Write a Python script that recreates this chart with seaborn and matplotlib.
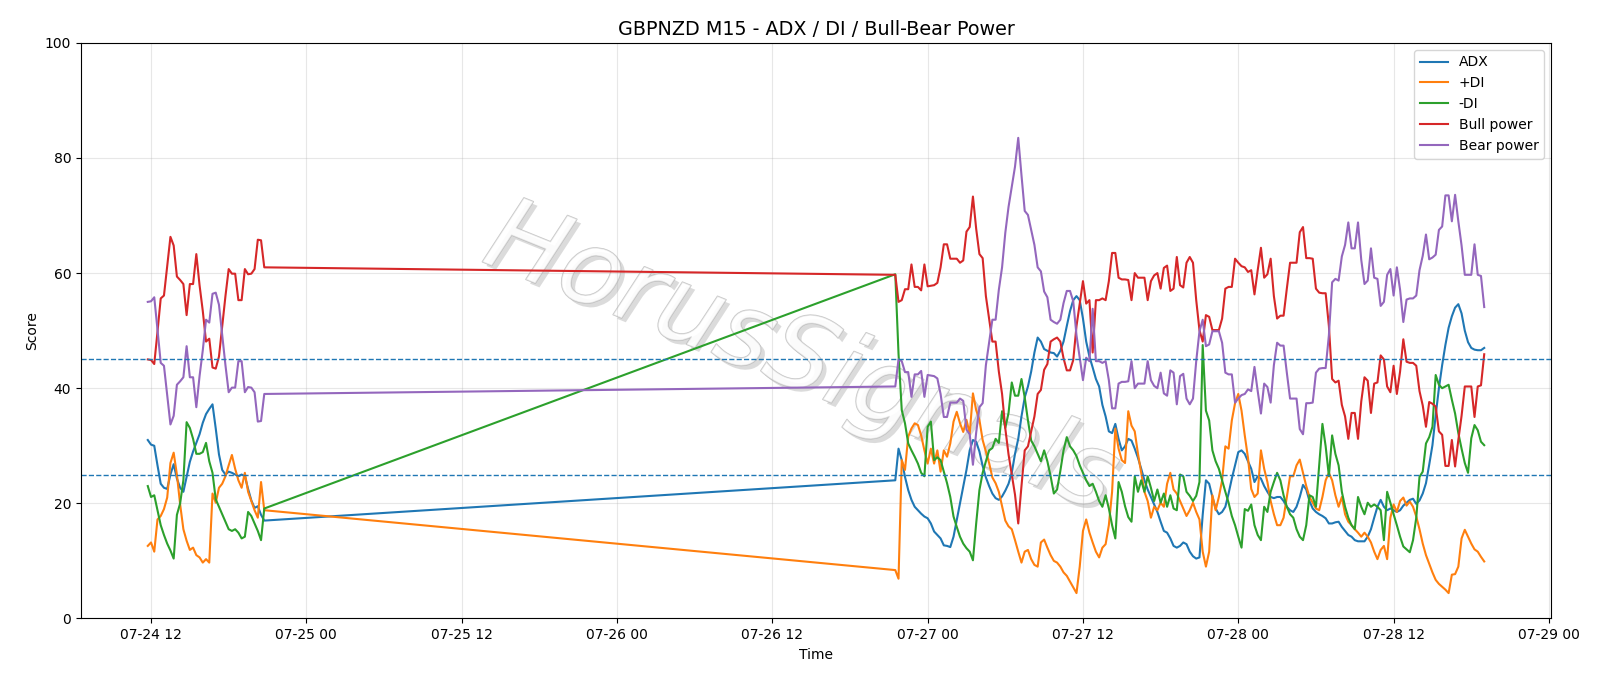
import matplotlib
matplotlib.use("Agg")
import matplotlib.pyplot as plt
import matplotlib.dates as mdates
import matplotlib.patheffects as pe
import seaborn as sns
import pandas as pd

# ---------------- data ----------------
seg1_start = "2025-07-24 11:45"
seg2_start = "2025-07-26 21:30"

adx_1 = [31.0, 30.2, 30.0, 26.6, 23.4, 22.7, 22.5, 25.0, 26.8, 24.3,
         22.7, 22.0, 24.6, 27.2, 29.0, 30.5, 32.0, 34.0, 35.5, 36.4,
         37.2, 33.0, 28.5, 25.8, 25.0, 25.5, 25.3, 25.0, 24.7, 25.0,
         24.7, 22.5, 20.5, 19.2, 19.5, 18.0, 17.0]
pdi_1 = [12.6, 13.2, 11.6, 17.2, 17.8, 19.0, 21.0, 27.0, 28.8, 25.0,
         19.8, 15.5, 13.5, 11.9, 12.3, 11.0, 10.6, 9.7, 10.3, 9.7,
         21.7, 20.1, 22.7, 23.4, 24.7, 26.6, 28.4, 26.0, 24.0, 22.7,
         25.3, 22.0, 20.4, 18.8, 17.5, 23.7, 18.8]
mdi_1 = [23.0, 21.1, 21.4, 18.8, 16.2, 14.5, 13.0, 11.8, 10.4, 18.0,
         20.0, 24.0, 34.1, 33.1, 31.2, 28.6, 28.6, 28.9, 30.5, 27.3,
         25.3, 20.7, 19.4, 18.1, 16.8, 15.5, 15.2, 15.5, 14.9, 13.9,
         14.2, 18.5, 17.8, 16.5, 15.2, 13.6, 19.1]
bull_1 = [45.0, 44.9, 44.2, 49.8, 55.6, 56.1, 61.2, 66.3, 64.8, 59.4,
          58.8, 58.1, 52.7, 58.1, 58.1, 63.3, 57.9, 53.4, 48.1, 48.6,
          43.6, 43.4, 45.5, 50.8, 56.0, 60.7, 59.9, 59.9, 55.3, 55.3,
          60.7, 59.8, 59.9, 60.7, 65.8, 65.7, 61.0]
bear_1 = [55.0, 55.1, 55.8, 50.2, 44.4, 43.9, 38.8, 33.7, 35.2, 40.6,
          41.2, 41.9, 47.3, 41.9, 41.9, 36.7, 42.1, 46.6, 51.9, 51.4,
          56.4, 56.6, 54.5, 49.2, 44.0, 39.3, 40.1, 40.1, 44.7, 44.7,
          39.3, 40.2, 40.1, 39.3, 34.2, 34.3, 39.0]

adx_2 = [24.0, 29.5, 27.5, 24.6, 22.3, 20.6, 19.4, 18.8, 18.2, 17.7,
         17.4, 16.5, 15.1, 14.5, 13.9, 12.7, 12.6, 12.4, 14.2, 17.1,
         20.0, 22.9, 25.8, 29.2, 31.0, 30.7, 29.0, 26.5, 24.5, 23.0,
         21.7, 20.9, 20.6, 21.2, 22.2, 23.4, 25.3, 28.6, 31.2, 35.1,
         38.4, 40.3, 42.9, 46.2, 48.8, 48.1, 46.8, 46.5, 46.2, 46.1,
         45.5, 46.5, 48.1, 50.8, 53.4, 55.3, 56.0, 55.3, 52.1, 48.1,
         45.5, 43.6, 41.6, 40.3, 37.1, 35.1, 32.5, 32.2, 33.8, 31.2,
         29.2, 29.9, 31.2, 30.9, 29.5, 27.9, 26.0, 24.0, 22.4, 21.1,
         19.8, 18.5, 16.8, 15.2, 14.9, 13.9, 12.6, 12.3, 12.6, 13.2,
         12.9, 11.6, 10.8, 10.4, 10.6, 18.0, 24.0, 23.4, 21.1, 19.1,
         18.1, 18.5, 19.4, 21.7, 24.3, 26.6, 28.9, 29.2, 28.6, 27.3,
         26.0, 23.7, 24.7, 24.3, 23.0, 22.0, 21.1, 20.9, 21.1, 21.1,
         20.4, 19.4, 18.8, 18.5, 19.4, 21.1, 23.2, 22.4, 20.4, 19.1,
         18.5, 18.1, 17.8, 17.4, 16.5, 16.5, 16.7, 16.8, 15.9, 15.2,
         14.5, 14.2, 13.6, 13.4, 13.4, 13.4, 14.2, 15.5, 17.5, 19.4,
         20.6, 19.4, 18.8, 19.1, 18.8, 18.5, 18.8, 19.6, 20.1, 20.6,
         20.8, 19.9, 20.5, 21.7, 23.5, 26.7, 30.1, 35.3, 40.0, 44.0,
         47.5, 50.5, 52.5, 54.0, 54.6, 53.0, 50.0, 48.0, 47.0, 46.7,
         46.6, 46.6, 47.0]
pdi_2 = [8.4, 6.9, 27.5, 25.8, 31.6, 33.0, 33.9, 33.6, 31.8, 29.2,
         26.9, 29.5, 26.9, 29.2, 25.5, 29.2, 28.1, 30.4, 34.2, 35.9,
         33.9, 32.4, 34.5, 32.1, 39.1, 36.2, 34.5, 31.0, 29.0, 27.0,
         24.5, 23.5, 22.0, 19.5, 17.0, 16.0, 15.5, 13.6, 11.6, 9.7,
         11.6, 11.9, 10.3, 9.3, 9.0, 13.2, 13.7, 12.3, 11.0, 10.0,
         9.7, 9.0, 8.0, 7.4, 6.4, 5.4, 4.4, 9.0, 15.2, 17.2,
         14.9, 13.2, 11.6, 10.6, 12.3, 12.9, 16.2, 22.0, 33.0, 29.5,
         27.5, 27.0, 36.0, 33.5, 32.5, 28.6, 25.3, 22.0, 20.4, 17.5,
         19.4, 18.8, 20.1, 19.4, 23.4, 25.3, 22.4, 21.7, 20.4, 19.1,
         17.8, 18.8, 20.1, 18.5, 17.2, 11.6, 9.0, 11.6, 21.4, 18.8,
         21.1, 24.0, 29.9, 29.5, 34.4, 37.4, 39.0, 36.1, 31.8, 27.9,
         22.5, 21.1, 21.7, 29.2, 26.0, 23.7, 20.4, 18.1, 16.2, 16.2,
         17.5, 21.1, 24.7, 24.7, 26.6, 27.6, 25.3, 23.0, 21.1, 20.1,
         19.1, 18.8, 21.1, 24.0, 25.3, 24.0, 21.4, 19.4, 21.1, 18.1,
         16.8, 16.2, 15.5, 14.9, 14.2, 14.9, 14.2, 13.2, 11.6, 10.3,
         11.9, 12.6, 10.3, 17.5, 19.8, 18.5, 20.4, 21.0, 19.6, 20.3,
         19.4, 17.7, 15.5, 13.0, 11.0, 9.5, 8.0, 6.7, 6.0, 5.5,
         5.0, 4.4, 7.6, 7.7, 9.0, 13.9, 15.4, 14.2, 13.0, 12.0,
         11.6, 10.7, 9.9]
mdi_2 = [59.8, 46.0, 36.2, 33.9, 30.4, 29.2, 28.1, 26.9, 25.3, 24.7,
         33.3, 34.2, 27.5, 28.0, 27.5, 25.5, 23.5, 21.1, 17.7, 15.9,
         14.2, 13.0, 12.2, 11.6, 10.1, 16.5, 22.3, 25.3, 27.3, 29.2,
         29.6, 31.2, 30.5, 36.0, 33.1, 35.7, 41.0, 38.7, 38.7, 41.6,
         38.4, 34.4, 30.9, 29.9, 28.6, 27.3, 29.2, 27.3, 24.7, 21.7,
         22.4, 25.6, 29.2, 31.5, 29.9, 29.2, 28.2, 26.6, 25.3, 24.0,
         23.0, 23.4, 22.0, 20.4, 19.4, 21.4, 19.1, 16.2, 13.9, 23.7,
         22.0, 19.5, 17.6, 16.8, 24.7, 22.0, 24.0, 22.0, 24.7, 22.7,
         20.4, 22.4, 20.1, 21.7, 19.4, 21.4, 19.1, 18.8, 25.0, 24.7,
         22.0, 21.3, 20.4, 21.3, 23.7, 47.5, 36.1, 34.4, 29.2, 27.3,
         26.0, 24.0, 22.0, 20.1, 17.8, 16.2, 14.2, 12.3, 19.0, 18.7,
         19.8, 16.2, 14.5, 13.6, 19.4, 18.5, 22.0, 23.7, 25.3, 24.0,
         21.4, 19.4, 18.1, 17.5, 15.5, 14.2, 13.6, 16.2, 21.4, 21.1,
         19.4, 26.6, 33.8, 29.9, 24.7, 31.8, 28.6, 26.6, 22.0, 19.4,
         17.5, 16.2, 15.5, 21.1, 19.4, 18.1, 20.1, 19.4, 19.8, 19.4,
         18.8, 13.6, 22.0, 20.1, 18.1, 16.2, 14.2, 12.5, 12.0, 11.5,
         13.6, 17.5, 24.6, 25.5, 30.4, 31.5, 33.3, 42.3, 40.6, 40.0,
         40.3, 40.6, 38.0, 35.6, 32.2, 29.5, 27.0, 25.3, 31.3, 33.6,
         32.7, 30.7, 30.1]
bull_2 = [59.7, 55.0, 55.3, 57.2, 57.2, 61.5, 57.6, 57.6, 57.0, 61.5,
          57.7, 57.8, 57.9, 58.3, 61.0, 65.0, 65.0, 62.5, 62.5, 62.5,
          61.8, 62.2, 67.2, 68.0, 73.3, 67.7, 63.3, 62.6, 56.0, 52.1,
          48.1, 48.1, 42.9, 39.0, 33.0, 28.5, 25.0, 21.5, 16.5, 23.0,
          29.2, 29.9, 32.5, 35.1, 39.0, 39.7, 43.2, 44.2, 48.1, 48.5,
          48.8, 48.1, 45.2, 43.1, 43.1, 44.9, 50.8, 54.7, 58.6, 54.7,
          55.3, 46.2, 55.3, 55.3, 55.6, 55.3, 58.6, 63.5, 63.5, 59.2,
          58.9, 58.9, 58.8, 55.3, 60.0, 59.2, 59.2, 59.2, 55.3, 58.6,
          59.6, 60.0, 57.3, 60.9, 61.3, 56.9, 57.3, 62.8, 57.9, 57.5,
          61.8, 62.8, 61.8, 55.3, 50.1, 48.1, 52.7, 52.4, 50.1, 50.1,
          50.1, 52.1, 57.3, 57.6, 57.6, 62.5, 61.8, 61.2, 61.0, 60.2,
          60.5, 56.3, 60.5, 64.4, 59.2, 59.8, 62.5, 56.0, 52.1, 52.6,
          52.6, 57.3, 61.8, 61.8, 61.8, 67.1, 68.0, 62.6, 62.6, 62.5,
          57.3, 56.6, 56.5, 56.5, 50.8, 41.6, 41.0, 41.3, 37.1, 35.1,
          31.2, 35.7, 35.7, 31.2, 37.7, 41.9, 41.3, 35.7, 40.8, 41.0,
          45.7, 45.0, 40.3, 39.3, 43.9, 39.0, 42.9, 48.5, 44.6, 44.4,
          44.4, 43.9, 39.5, 37.0, 33.3, 37.6, 37.3, 36.8, 32.5, 31.9,
          26.5, 26.5, 31.0, 26.4, 31.0, 35.2, 40.3, 40.3, 40.3, 35.0,
          40.3, 40.5, 45.9]
bear_2 = [40.3, 45.0, 44.7, 42.8, 42.8, 38.5, 42.4, 42.4, 43.0, 38.5,
          42.3, 42.2, 42.1, 41.7, 39.0, 35.0, 35.0, 37.5, 37.5, 37.5,
          38.2, 37.8, 32.8, 32.0, 26.7, 32.3, 36.7, 37.4, 44.0, 47.9,
          51.9, 51.9, 57.1, 61.0, 67.0, 71.5, 75.0, 78.5, 83.5, 77.0,
          70.8, 70.1, 67.5, 64.9, 61.0, 60.3, 56.8, 55.8, 51.9, 51.5,
          51.2, 51.9, 54.8, 56.9, 56.9, 55.1, 49.2, 45.3, 41.4, 45.3,
          44.7, 53.8, 44.7, 44.7, 44.4, 44.7, 41.4, 36.5, 36.5, 40.8,
          41.1, 41.1, 41.2, 44.7, 40.0, 40.8, 40.8, 40.8, 44.7, 41.4,
          40.4, 40.0, 42.7, 39.1, 38.7, 43.1, 42.7, 37.2, 42.1, 42.5,
          38.2, 37.2, 38.2, 44.7, 49.9, 51.9, 47.3, 47.6, 49.9, 49.9,
          49.9, 47.9, 42.7, 42.4, 42.4, 37.5, 38.2, 38.8, 39.0, 39.8,
          39.5, 43.7, 39.5, 35.6, 40.8, 40.2, 37.5, 44.0, 47.9, 47.4,
          47.4, 42.7, 38.2, 38.2, 38.2, 32.9, 32.0, 37.4, 37.4, 37.5,
          42.7, 43.4, 43.5, 43.5, 49.2, 58.4, 59.0, 58.7, 62.9, 64.9,
          68.8, 64.3, 64.3, 68.8, 62.3, 58.1, 58.7, 64.3, 59.2, 59.0,
          54.3, 55.0, 59.7, 60.7, 56.1, 61.0, 57.1, 51.5, 55.4, 55.6,
          55.6, 56.1, 60.5, 63.0, 66.7, 62.4, 62.7, 63.2, 67.5, 68.1,
          73.5, 73.5, 69.0, 73.6, 69.0, 64.8, 59.7, 59.7, 59.7, 65.0,
          59.7, 59.5, 54.1]

series_names = ["ADX", "+DI", "-DI", "Bull power", "Bear power"]
series_colors = ["#1f77b4", "#ff7f0e", "#2ca02c", "#d62728", "#9467bd"]
thresholds = [45, 25]
title = "GBPNZD M15 - ADX / DI / Bull-Bear Power"
watermark = "HorusSignals"

# ---------------- build frame ----------------
seg1 = [adx_1, pdi_1, mdi_1, bull_1, bear_1]
seg2 = [adx_2, pdi_2, mdi_2, bull_2, bear_2]
n1 = min(len(s) for s in seg1)
n2 = min(len(s) for s in seg2)
times = list(pd.date_range(seg1_start, periods=n1, freq="15min")) + \
        list(pd.date_range(seg2_start, periods=n2, freq="15min"))
df = pd.DataFrame({"Time": times})
for name, a, b in zip(series_names, seg1, seg2):
    df[name] = list(a[:n1]) + list(b[:n2])

# ---------------- plot ----------------
fig, ax = plt.subplots(figsize=(16, 6.86), dpi=100)
fig.subplots_adjust(left=0.0506, right=0.9694, bottom=0.0985, top=0.9375)

for name, col in zip(series_names, series_colors):
    sns.lineplot(data=df, x="Time", y=name, ax=ax, label=name, color=col,
                 linewidth=1.5, estimator=None, sort=False)

for t in thresholds:
    ax.axhline(t, linestyle="--", color="#1f77b4", linewidth=1.0)

ax.set_ylim(0, 100)
ax.xaxis.set_major_locator(mdates.HourLocator(byhour=[0, 12]))
ax.xaxis.set_major_formatter(mdates.DateFormatter("%m-%d %H"))
ax.set_title(title, fontsize=13.8)
ax.set_xlabel("Time")
ax.set_ylabel("Score")
ax.grid(True, alpha=0.3)
ax.legend(loc="upper right")

ax.text(0.49, 0.45, watermark, transform=ax.transAxes, fontsize=74,
        color="white", alpha=0.55, rotation=-22, ha="center", va="center",
        style="italic", fontweight="light", zorder=0.5,
        path_effects=[pe.SimplePatchShadow(offset=(3, -3), shadow_rgbFace="#b0b0b0", alpha=0.45),
                      pe.Stroke(linewidth=1.0, foreground="#b8b8b8", alpha=0.8),
                      pe.Normal()])

fig.savefig("out.png", dpi=100)
